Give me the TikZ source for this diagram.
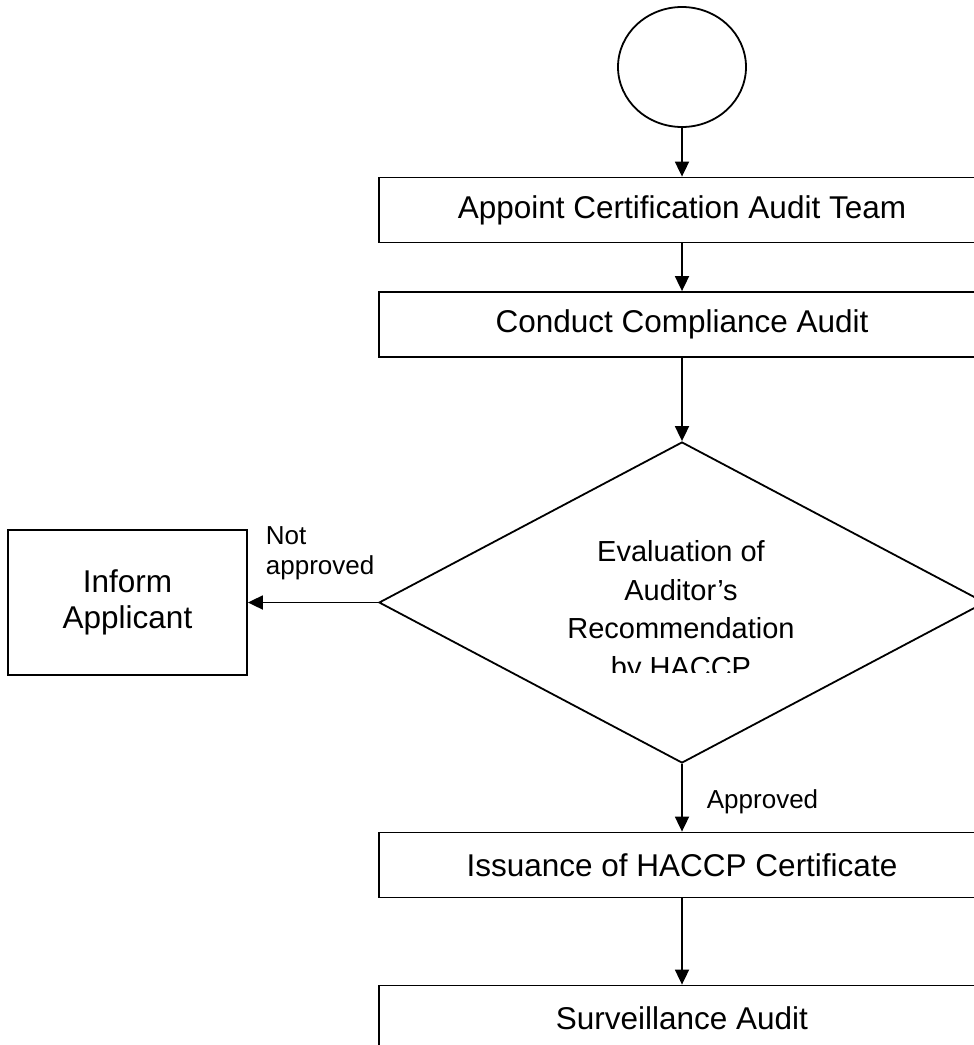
\documentclass[tikz,border=0pt]{standalone}
\usepackage{fontspec}
\setmainfont{Liberation Sans}
\usetikzlibrary{shapes.geometric,arrows.meta,positioning}

\begin{document}
\begin{tikzpicture}[x=1pt, y=1pt, >={Triangle[length=15pt,width=14pt]}, line width=1.8pt]

	% Styles
	\tikzstyle{block} = [draw, rectangle, align=center, minimum width=606pt, minimum height=65pt, inner sep=0pt, font=\fontsize{31.5}{38}\selectfont];
	\tikzstyle{sidebox} = [draw, rectangle, align=center, minimum width=239pt, minimum height=145pt, inner sep=0pt, font=\fontsize{31.5}{36}\selectfont];
	\tikzstyle{decision} = [draw, diamond, minimum width=606pt, minimum height=321pt, inner sep=0pt];
	\tikzstyle{decisiontext} = [align=center, inner sep=0pt, font=\fontsize{29}{38.5}\selectfont];
	\tikzstyle{branchtext} = [align=left, inner sep=0pt, font=\fontsize{26}{30}\selectfont];

	\useasboundingbox (0,0) rectangle (974,-1045);
	\clip (0,0) rectangle (974,-1045);

	% Nodes
	\node[draw, ellipse, minimum width=128pt, minimum height=120pt, inner sep=0pt] (start) at (682,-67) {};

	\node[block, below of=start, node distance=143pt] (appoint)
	{Appoint Certification Audit Team};

	\node[block, below of=appoint, node distance=114.5pt] (conduct)
	{Conduct Compliance Audit};

	\node[decision, below of=conduct, node distance=278pt] (eval) {};

	\node[sidebox, left of=eval, node distance=554.5pt] (inform)
	{Inform\\Applicant};

	\node[block, below of=eval, node distance=262.5pt] (issue)
	{Issuance of HACCP Certificate};

	\node[block, below of=issue, node distance=153pt] (surv)
	{Surveillance Audit};

	% Text of the decision, cut off at the bottom
	\begin{scope}
		\clip (380,-442) rectangle (986,-672);
		\node[decisiontext, anchor=north] (evaltext) at (681,-540)
		{Evaluation of\\Auditor’s\\Recommendation\\by HACCP};
	\end{scope}

	% Branch labels
	\node[branchtext, anchor=north west] (notok) at (265,-526) {Not\\approved};
	\node[branchtext, anchor=north west] (ok) at (706,-789) {Approved};

	% Arrows
	\draw[->] (start) -- (appoint);
	\draw[->] (appoint) -- (conduct);
	\draw[->] (conduct) -- (eval);
	\draw[->] (eval) -- (inform);
	\draw[->] (eval) -- (issue);
	\draw[->] (issue) -- (surv);

\end{tikzpicture}
\end{document}
